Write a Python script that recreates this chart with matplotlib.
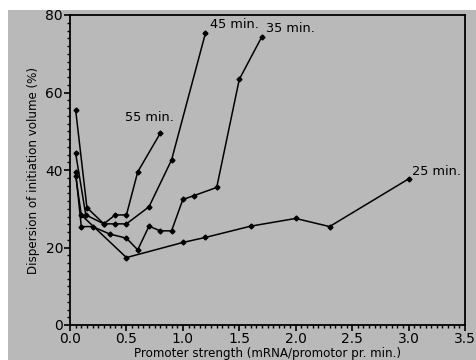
import matplotlib
matplotlib.use('Agg')
import matplotlib.pyplot as plt
from matplotlib.patches import Rectangle
from matplotlib.ticker import MultipleLocator

# Values
x25 = [0.05, 0.10, 0.50, 1.00, 1.20, 1.60, 2.00, 2.30, 3.00]
y25 = [38.5, 28.4, 17.4, 21.3, 22.6, 25.5, 27.5, 25.4, 37.7]

x35 = [0.05, 0.10, 0.20, 0.35, 0.50, 0.60, 0.70, 0.80, 0.90, 1.00, 1.10, 1.30, 1.50, 1.70]
y35 = [39.5, 25.4, 25.4, 23.5, 22.4, 19.4, 25.5, 24.3, 24.3, 32.4, 33.4, 35.5, 63.4, 74.4]

x45 = [0.05, 0.14, 0.30, 0.40, 0.50, 0.70, 0.90, 1.20]
y45 = [44.3, 28.4, 26.1, 26.1, 26.1, 30.5, 42.6, 75.3]

x55 = [0.05, 0.15, 0.30, 0.40, 0.50, 0.60, 0.80]
y55 = [55.5, 30.3, 26.1, 28.4, 28.4, 39.5, 49.5]

labels = ['25 min.', '35 min.', '45 min.', '55 min.']
label_pos = [(3.03, 39.5), (1.74, 76.5), (1.24, 77.5), (0.49, 53.5)]

bg = '#b9b9b9'
fig = plt.figure(figsize=(4.76, 3.6), dpi=100, facecolor='white')
fig.patches.append(Rectangle((8/476, 0), 1, 1 - 10/360, transform=fig.transFigure,
                             facecolor=bg, edgecolor='none', zorder=-10))
ax = fig.add_axes([70/476, 35/360, 395/476, 310/360])
ax.set_facecolor(bg)

for xs, ys in [(x25, y25), (x35, y35), (x45, y45), (x55, y55)]:
    ax.plot(xs, ys, color='black', lw=1.1, marker='D', ms=2.5, clip_on=False)

for txt, (tx, ty) in zip(labels, label_pos):
    ax.text(tx, ty, txt, fontsize=9.3, va='center', ha='left', color='black')

ax.set_xlim(0, 3.5)
ax.set_ylim(0, 80)
ax.xaxis.set_major_locator(MultipleLocator(0.5))
ax.xaxis.set_minor_locator(MultipleLocator(0.05))
ax.yaxis.set_major_locator(MultipleLocator(20))
ax.yaxis.set_minor_locator(MultipleLocator(2))
ax.xaxis.set_major_formatter(lambda v, p: f'{v:.1f}')
ax.tick_params(which='major', direction='out', length=4, width=1.2, labelsize=10, pad=1)
ax.tick_params(which='minor', direction='out', length=2.5, width=1)
for s in ax.spines.values():
    s.set_linewidth(1.3)

ax.set_xlabel('Promoter strength (mRNA/promotor pr. min.)', fontsize=8.6, labelpad=1)
ax.set_ylabel('Dispersion of initiation volume (%)', fontsize=8.6, labelpad=4)

fig.savefig('out.png', dpi=100, facecolor=fig.get_facecolor())
